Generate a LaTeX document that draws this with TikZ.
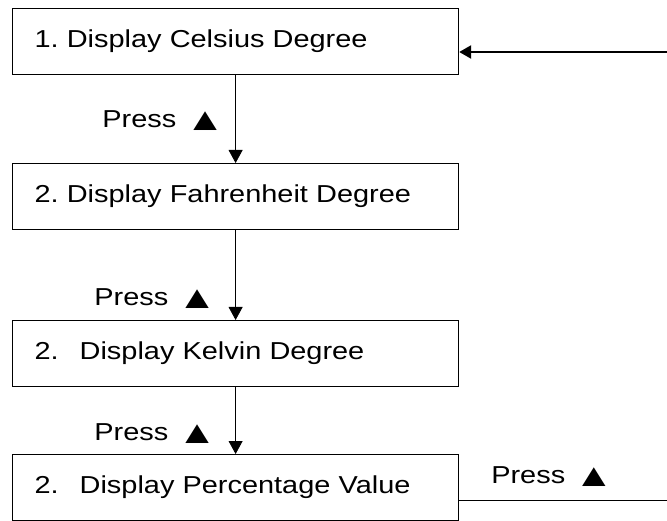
\documentclass[tikz,border=0pt]{standalone}
\usepackage{fontspec}
\setmainfont[FakeStretch=1.18]{Liberation Sans}
\newfontfamily\symfont[FakeStretch=1.25]{DejaVu Sans}
\usetikzlibrary{positioning,arrows.meta}
\newcommand{\press}{Press\hspace{17pt}{\symfont ▲}}
\frenchspacing

\begin{document}
\begin{tikzpicture}[x=1pt, y=1pt,
    box/.style={draw, line width=1.2pt, anchor=north west, text width=402pt,
      inner xsep=22pt, minimum height=66pt, align=left,
      font=\fontsize{24.5}{28}\selectfont},
    lbl/.style={font=\fontsize{24.5}{28}\selectfont},
    down/.style={-{Triangle[width=14pt,length=13pt]}, line width=0.8pt}]
  \useasboundingbox (0,0) rectangle (667,-521);
  \node[box] (celsius) at (12,-8) {1. Display Celsius Degree};
  \node[box] (fahr) at (12,-163) {2. Display Fahrenheit Degree};
  \node[box] (kelvin) at (12,-320) {2.\hspace{21pt}Display Kelvin Degree};
  \node[box] (percent) at (12,-454) {2.\hspace{21pt}Display Percentage Value};
  \draw[down] (celsius) -- node[lbl, left=15pt, pos=.52] {\press} (fahr);
  \draw[down] (fahr) -- node[lbl, left=23pt, pos=.76] {\press} (kelvin);
  \draw[down] (kelvin) -- node[lbl, left=23pt, pos=.69] {\press} (percent);
  % back to the first state
  \coordinate (back) at (667,-52);
  \draw[-{Triangle[width=13pt,length=12pt]}, line width=2.5pt] (back) -- (back -| celsius.east);
  \coordinate (out) at (667,-500);
  \draw[line width=0.8pt] (percent.east |- out) -- node[lbl, above=10pt, pos=.43] {\press} (out);
\end{tikzpicture}
\end{document}
